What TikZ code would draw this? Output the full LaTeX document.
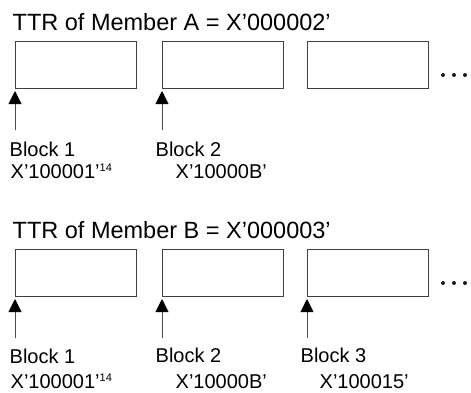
\documentclass[tikz,border=0pt]{standalone}
\usepackage{fontspec}
\setmainfont{Liberation Sans}
\usetikzlibrary{positioning,arrows.meta}

\begin{document}
\begin{tikzpicture}[
  x=1pt, y=1pt,
  node distance=25pt,
  ttl/.style={inner sep=0pt, anchor=base west, text=black,
              font=\fontsize{23.5}{28}\selectfont},
  lbl/.style={inner sep=0pt, anchor=base west, text=black,
              font=\fontsize{20}{24}\selectfont},
  blk/.style={draw=black!75, line width=0.9pt, minimum width=121pt,
              minimum height=47pt, inner sep=0pt, outer sep=0pt},
  arr/.style={-{Triangle[length=13pt,width=13pt,color=black,fill=black]},
              draw=black!70, line width=0.9pt, shorten >=3pt},
  dotc/.style={fill=black!90}
]
\useasboundingbox (0,0) rectangle (471,-392);

% member A
\node[ttl] (ttlA) at (12.5,-30.5) {TTR of Member A = X’000002’};
\node[blk, anchor=north west] (a1) at (15,-41) {};
\node[blk, right=26pt of a1] (a2) {};
\node[blk, right=24pt of a2] (a3) {};
\fill[dotc] (443,-75) circle (2pt) (454,-75) circle (2pt) (465,-75) circle (2pt);

\coordinate[below=42pt of a1.south west] (tA1);
\coordinate[below=42pt of a2.south west] (tA2);
\draw[arr] (tA1) -- (a1.south west);
\draw[arr] (tA2) -- (a2.south west);

\node[lbl] (bA1) at (9.5,-156) {Block 1};
\node[lbl] (xA1) at (10.5,-178) {X’100001’\raisebox{6.5pt}{\fontsize{11}{12}\selectfont 14}};
\node[lbl] (bA2) at (155.5,-156) {Block 2};
\node[lbl] (xA2) at (175.5,-178) {X’10000B’};

% member B
\node[ttl] (ttlB) at (12.5,-238.5) {TTR of Member B = X’000003’};
\node[blk, anchor=north west] (b1) at (15,-249) {};
\node[blk, right=26pt of b1] (b2) {};
\node[blk, right=24pt of b2] (b3) {};
\fill[dotc] (443,-283) circle (2pt) (454,-283) circle (2pt) (465,-283) circle (2pt);

\coordinate[below=42pt of b1.south west] (tB1);
\coordinate[below=42pt of b2.south west] (tB2);
\coordinate[below=42pt of b3.south west] (tB3);
\draw[arr] (tB1) -- (b1.south west);
\draw[arr] (tB2) -- (b2.south west);
\draw[arr] (tB3) -- (b3.south west);

\node[lbl] (bB1) at (9.5,-363) {Block 1};
\node[lbl] (xB1) at (10.5,-388) {X’100001’\raisebox{6.5pt}{\fontsize{11}{12}\selectfont 14}};
\node[lbl] (bB2) at (155.5,-362) {Block 2};
\node[lbl] (xB2) at (175.5,-388) {X’10000B’};
\node[lbl] (bB3) at (300.5,-362) {Block 3};
\node[lbl] (xB3) at (319.5,-388) {X’100015’};
\end{tikzpicture}
\end{document}
